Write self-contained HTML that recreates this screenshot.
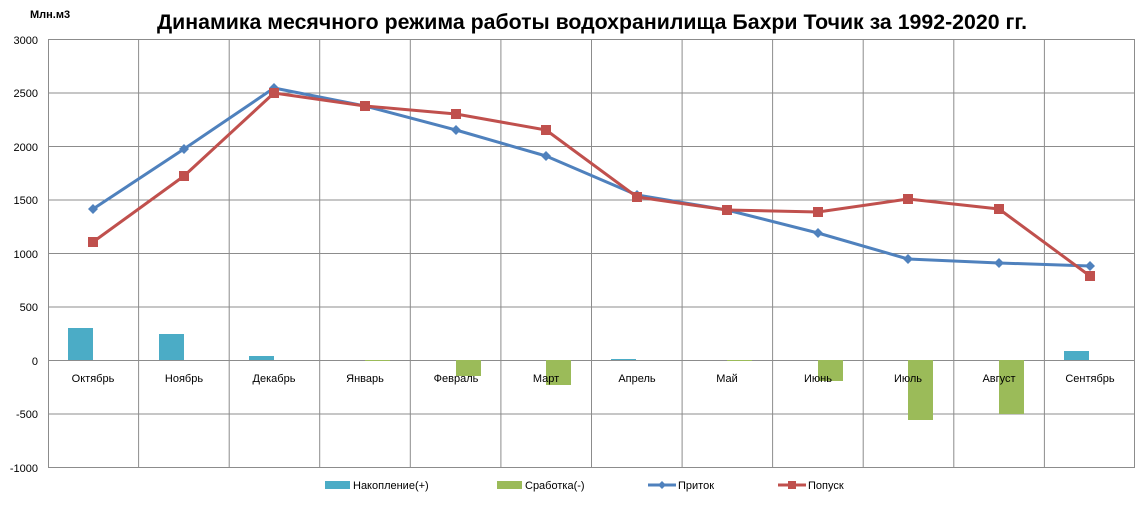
<!DOCTYPE html>
<html><head><meta charset="utf-8"><style>body{margin:0;background:#fff}svg{display:block;font-family:"Liberation Sans","DejaVu Sans",sans-serif}</style></head><body>
<svg width="1146" height="510" xmlns="http://www.w3.org/2000/svg">
<rect width="1146" height="510" fill="#fff"/>
<text x="157" y="29" font-size="21" font-weight="bold" textLength="870" lengthAdjust="spacingAndGlyphs">Динамика месячного режима работы водохранилища Бахри Точик за 1992-2020 гг.</text>
<text x="30" y="18" font-size="11" font-weight="bold">Млн.м3</text>
<g stroke="#8c8c8c" stroke-width="1">
<line x1="48" y1="39.5" x2="1135" y2="39.5"/><line x1="48" y1="93" x2="1135" y2="93"/><line x1="48" y1="146.5" x2="1135" y2="146.5"/><line x1="48" y1="200" x2="1135" y2="200"/><line x1="48" y1="253.5" x2="1135" y2="253.5"/><line x1="48" y1="307" x2="1135" y2="307"/><line x1="48" y1="360.5" x2="1135" y2="360.5"/><line x1="48" y1="414" x2="1135" y2="414"/><line x1="48" y1="467.5" x2="1135" y2="467.5"/>
<line x1="48.5" y1="39" x2="48.5" y2="467"/><line x1="138.6" y1="39" x2="138.6" y2="467"/><line x1="229.2" y1="39" x2="229.2" y2="467"/><line x1="319.7" y1="39" x2="319.7" y2="467"/><line x1="410.3" y1="39" x2="410.3" y2="467"/><line x1="500.9" y1="39" x2="500.9" y2="467"/><line x1="591.5" y1="39" x2="591.5" y2="467"/><line x1="682.1" y1="39" x2="682.1" y2="467"/><line x1="772.6" y1="39" x2="772.6" y2="467"/><line x1="863.2" y1="39" x2="863.2" y2="467"/><line x1="953.8" y1="39" x2="953.8" y2="467"/><line x1="1044.4" y1="39" x2="1044.4" y2="467"/><line x1="1134.5" y1="39" x2="1134.5" y2="467"/>
</g>
<g font-size="11" text-anchor="end">
<text x="38" y="44">3000</text><text x="38" y="97">2500</text><text x="38" y="151">2000</text><text x="38" y="204">1500</text><text x="38" y="258">1000</text><text x="38" y="311">500</text><text x="38" y="365">0</text><text x="38" y="418">-500</text><text x="38" y="472">-1000</text>
</g>
<g fill="#4bacc6">
<rect x="68" y="328" width="25" height="32"/><rect x="159" y="334" width="25" height="26"/><rect x="249" y="356" width="25" height="4"/><rect x="611" y="359" width="25" height="1"/><rect x="1064" y="351" width="25" height="9"/>
</g>
<g fill="#9bbb59">
<rect x="365" y="360" width="25" height="1"/><rect x="456" y="360" width="25" height="16"/><rect x="546" y="360" width="25" height="25"/><rect x="727" y="360" width="25" height="1"/><rect x="818" y="360" width="25" height="21"/><rect x="908" y="360" width="25" height="60"/><rect x="999" y="360" width="25" height="54"/>
</g>
<g font-size="11" text-anchor="middle">
<text x="93" y="382">Октябрь</text><text x="184" y="382">Ноябрь</text><text x="274" y="382">Декабрь</text><text x="365" y="382">Январь</text><text x="456" y="382">Февраль</text><text x="546" y="382">Март</text><text x="637" y="382">Апрель</text><text x="727" y="382">Май</text><text x="818" y="382">Июнь</text><text x="908" y="382">Июль</text><text x="999" y="382">Август</text><text x="1090" y="382">Сентябрь</text>
</g>
<polyline fill="none" stroke="#4f81bd" stroke-width="3" stroke-linejoin="round" points="93,209 184,149 274,88 365,106 456,130 546,156 637,195 727,210 818,233 908,259 999,263 1090,266"/>
<g fill="#4f81bd">
<path d="M93,204l5,5l-5,5l-5,-5z"/><path d="M184,144l5,5l-5,5l-5,-5z"/><path d="M274,83l5,5l-5,5l-5,-5z"/><path d="M365,101l5,5l-5,5l-5,-5z"/><path d="M456,125l5,5l-5,5l-5,-5z"/><path d="M546,151l5,5l-5,5l-5,-5z"/><path d="M637,190l5,5l-5,5l-5,-5z"/><path d="M727,205l5,5l-5,5l-5,-5z"/><path d="M818,228l5,5l-5,5l-5,-5z"/><path d="M908,254l5,5l-5,5l-5,-5z"/><path d="M999,258l5,5l-5,5l-5,-5z"/><path d="M1090,261l5,5l-5,5l-5,-5z"/>
</g>
<polyline fill="none" stroke="#c0504d" stroke-width="3" stroke-linejoin="round" points="93,242 184,176 274,93 365,106 456,114 546,130 637,197 727,210 818,212 908,199 999,209 1090,276"/>
<g fill="#c0504d">
<rect x="88" y="237" width="10" height="10"/><rect x="179" y="171" width="10" height="10"/><rect x="269" y="88" width="10" height="10"/><rect x="360" y="101" width="10" height="10"/><rect x="451" y="109" width="10" height="10"/><rect x="541" y="125" width="10" height="10"/><rect x="632" y="192" width="10" height="10"/><rect x="722" y="205" width="10" height="10"/><rect x="813" y="207" width="10" height="10"/><rect x="903" y="194" width="10" height="10"/><rect x="994" y="204" width="10" height="10"/><rect x="1085" y="271" width="10" height="10"/>
</g>
<g font-size="11">
<rect x="325" y="481" width="25" height="8" fill="#4bacc6"/><text x="353" y="489">Накопление(+)</text>
<rect x="497" y="481" width="25" height="8" fill="#9bbb59"/><text x="525" y="489">Сработка(-)</text>
<line x1="648" y1="485" x2="676" y2="485" stroke="#4f81bd" stroke-width="3"/><path d="M662,481l4,4l-4,4l-4,-4z" fill="#4f81bd"/><text x="678" y="489">Приток</text>
<line x1="778" y1="485" x2="806" y2="485" stroke="#c0504d" stroke-width="3"/><rect x="788" y="481" width="8" height="8" fill="#c0504d"/><text x="808" y="489">Попуск</text>
</g>
</svg>
</body></html>
